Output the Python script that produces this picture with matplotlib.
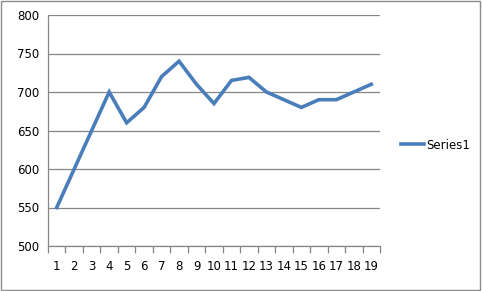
import numpy as np
import matplotlib.pyplot as plt
from matplotlib.patches import Rectangle

# Datos
categorias = list(range(1, 20))
series1 = [550, 600, 650, 700, 660, 680, 720, 740, 710, 685,
           715, 719, 700, 690, 680, 690, 690, 700, 710]
yticks = [500, 550, 600, 650, 700, 750, 800]

gris = '#868686'
azul = '#4a7ebb'

fig = plt.figure(figsize=(4.82, 2.91), dpi=100)
fig.patches.append(Rectangle((0.003, 0.005), 0.992, 0.99, transform=fig.transFigure,
                             fill=False, edgecolor='#8c8c8c', linewidth=1))

ax = fig.add_axes([48 / 482, (291 - 246) / 291, 332 / 482, 231 / 291])
ax.plot(categorias, series1, color=azul, linewidth=2.6, label='Series1',
        solid_joinstyle='miter')

ax.set_xlim(0.5, 19.5)
ax.set_ylim(500, 800)
ax.set_yticks(yticks)
ax.set_xticks(categorias)
ax.set_xticks(np.arange(0.5, 20, 1), minor=True)

ax.grid(True, axis='y', color=gris, linewidth=0.9)
ax.set_axisbelow(True)
for s in ['top', 'right']:
    ax.spines[s].set_visible(False)
for s in ['left', 'bottom']:
    ax.spines[s].set_color(gris)
    ax.spines[s].set_linewidth(0.9)

ax.tick_params(axis='x', which='major', length=0, pad=10, labelsize=8.5)
ax.tick_params(axis='x', which='minor', length=5, color=gris, width=0.9)
ax.tick_params(axis='y', length=0, pad=6, labelsize=8.5)

ax.legend(loc='center left', bbox_to_anchor=(1.03, 0.437), frameon=False,
          fontsize=8.5, handlelength=2.0, handletextpad=0.15)

fig.savefig('out.png', dpi=100)
